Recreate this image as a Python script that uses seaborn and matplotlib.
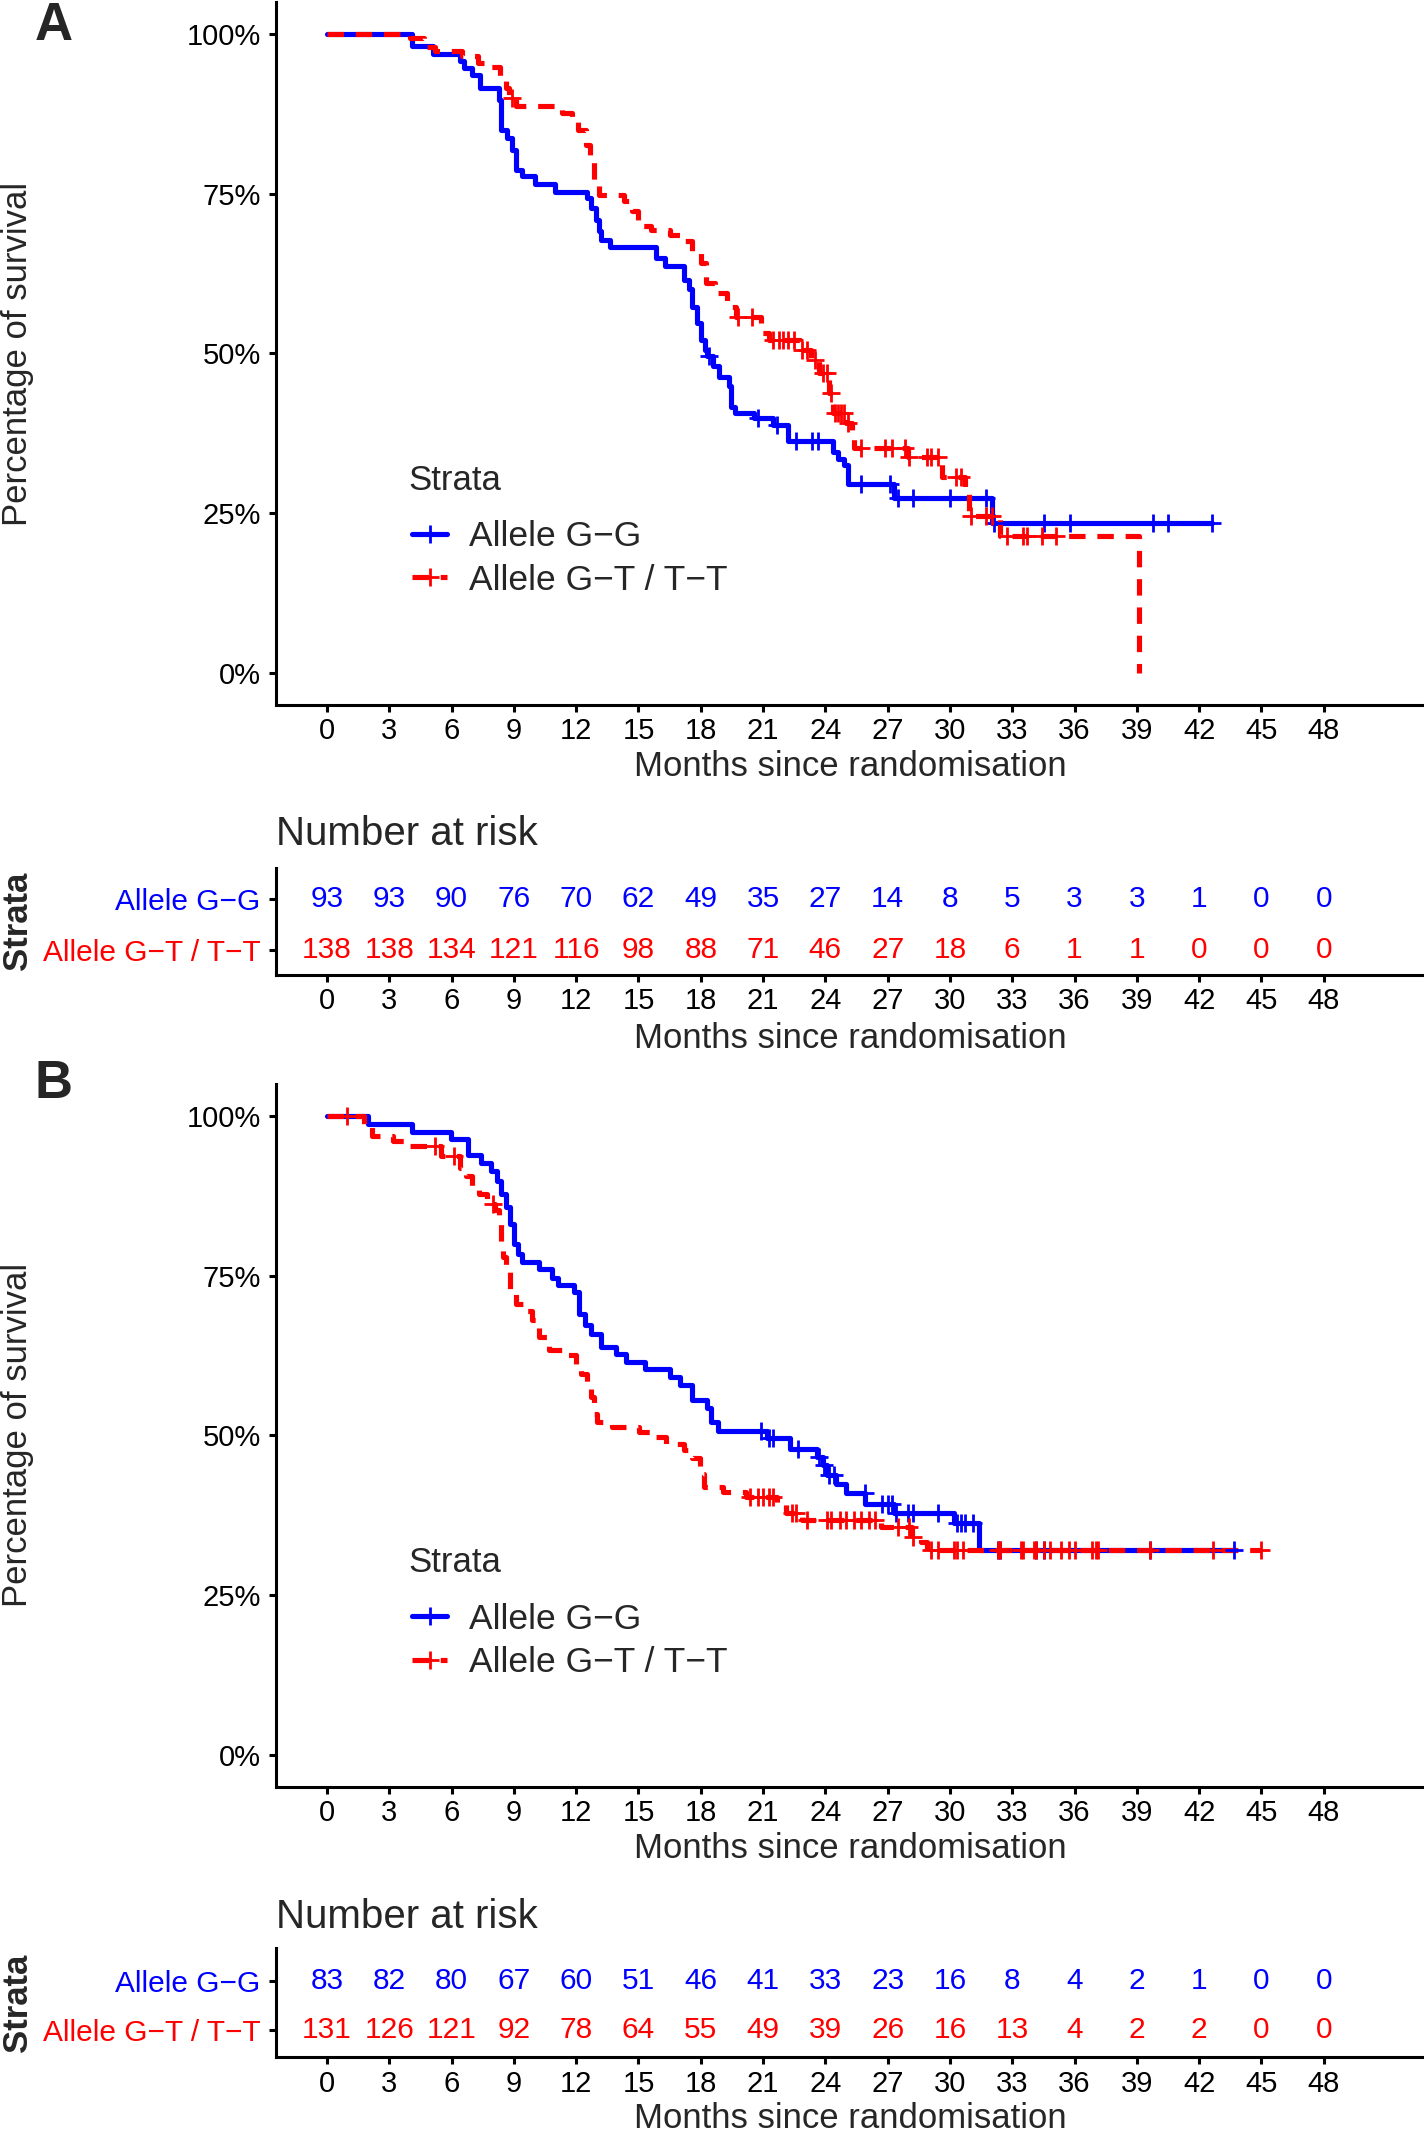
import numpy as np
import pandas as pd
import matplotlib
matplotlib.use('Agg')
import matplotlib.pyplot as plt
from matplotlib.lines import Line2D
import seaborn as sns

sns.set_style('ticks')
plt.rcParams['font.family'] = ['Liberation Sans', 'DejaVu Sans']

GG = 'Allele G\u2212G'
GT = 'Allele G\u2212T / T\u2212T'
BLUE = '#0000FF'
RED = '#FF0000'

months = list(range(0, 49, 3))
y_ticks = [0, 0.25, 0.5, 0.75, 1.0]
y_ticklabels = ['0%', '25%', '50%', '75%', '100%']

# ---- panel A: Kaplan-Meier steps (time of drop, survival after drop) ----
a_gg_time = [0, 4.1, 5.1, 6.4, 6.6, 7.0, 7.35, 8.27, 8.37, 8.65, 8.9, 9.1, 9.4, 10.0,
             10.96, 12.5, 12.7, 12.95, 13.1, 13.2, 13.65, 15.85, 16.3, 17.2, 17.45,
             17.6, 17.8, 18.0, 18.2, 18.3, 18.6, 18.88, 19.35, 19.44, 19.63, 20.55,
             21.48, 22.22, 24.35, 24.63, 24.9, 25.1, 27.3, 32.03, 42.6]
a_gg_surv = [1.0, 0.981, 0.969, 0.957, 0.946, 0.936, 0.915, 0.897, 0.850, 0.837, 0.819,
             0.787, 0.777, 0.765, 0.753, 0.743, 0.727, 0.709, 0.691, 0.678, 0.667, 0.649,
             0.636, 0.615, 0.600, 0.573, 0.547, 0.521, 0.505, 0.495, 0.48, 0.463, 0.448,
             0.416, 0.406, 0.398, 0.388, 0.362, 0.346, 0.335, 0.325, 0.296, 0.274,
             0.2346, 0.2346]
a_gg_cens = [18.42, 20.74, 21.66, 22.6, 23.37, 23.64, 25.7, 27.1, 27.5, 28.2, 29.99,
             31.75, 32.1, 34.53, 35.79, 39.77, 40.5, 42.6]

a_gt_time = [0, 4.0, 4.66, 5.22, 6.5, 7.25, 7.8, 8.35, 8.6, 8.75, 9.1, 11.3, 11.8, 12.1,
             12.45, 12.65, 12.85, 13.1, 14.3, 14.7, 15.0, 15.6, 16.5, 17.1, 17.6, 18.0,
             18.24, 18.7, 19.25, 19.7, 20.92, 21.3, 22.77, 23.32, 23.7, 24.16, 24.35,
             25.0, 25.27, 25.37, 27.96, 29.63, 30.74, 30.92, 32.4, 39.12]
a_gt_surv = [1.0, 0.993, 0.980, 0.973, 0.966, 0.955, 0.949, 0.934, 0.915, 0.90, 0.887,
             0.876, 0.863, 0.85, 0.826, 0.80, 0.77, 0.748, 0.738, 0.722, 0.70, 0.693,
             0.685, 0.675, 0.657, 0.641, 0.61, 0.594, 0.573, 0.557, 0.531, 0.521, 0.505,
             0.49, 0.469, 0.437, 0.406, 0.39, 0.369, 0.351, 0.338, 0.307, 0.286, 0.245,
             0.214, 0.0]
a_gt_cens = [8.9, 19.81, 20.46, 21.48, 21.76, 21.94, 22.2, 22.5, 22.86, 23.14, 23.5,
             23.9, 24.1, 24.25, 24.45, 24.6, 24.75, 24.9, 25.1, 25.74, 26.85, 27.22,
             27.86, 28.05, 28.88, 29.07, 29.44, 30.27, 30.55, 31.0, 31.75, 32.03, 32.77,
             33.5, 33.7, 34.44, 35.09]

a_gg_risk = [93, 93, 90, 76, 70, 62, 49, 35, 27, 14, 8, 5, 3, 3, 1, 0, 0]
a_gt_risk = [138, 138, 134, 121, 116, 98, 88, 71, 46, 27, 18, 6, 1, 1, 0, 0, 0]

# ---- panel B ----
b_gg_time = [0, 1.96, 4.1, 5.96, 6.8, 7.44, 7.9, 8.2, 8.36, 8.64, 8.83, 9.0, 9.2, 9.38,
             10.2, 10.86, 11.14, 11.88, 12.16, 12.44, 12.72, 13.19, 13.92, 14.39, 15.3,
             16.5, 16.98, 17.6, 18.3, 18.5, 18.85, 21.2, 22.31, 23.6, 23.88, 24.07,
             24.53, 25.0, 25.92, 27.3, 30.18, 31.38, 43.7]
b_gg_surv = [1.0, 0.987, 0.975, 0.964, 0.939, 0.927, 0.914, 0.898, 0.878, 0.857, 0.831,
             0.80, 0.784, 0.771, 0.76, 0.747, 0.736, 0.724, 0.69, 0.672, 0.659, 0.638,
             0.628, 0.615, 0.604, 0.591, 0.578, 0.555, 0.542, 0.52, 0.507, 0.495, 0.479,
             0.466, 0.453, 0.4375, 0.424, 0.409, 0.393, 0.378, 0.362, 0.32, 0.32]
b_gg_cens = [20.92, 21.29, 21.48, 22.68, 23.7, 23.95, 24.2, 24.4, 25.9, 26.75, 27.0,
             27.2, 27.4, 27.96, 28.24, 29.44, 30.36, 30.55, 30.74, 31.1, 32.3, 32.4,
             34.16, 34.53, 39.63, 43.7]

b_gt_time = [0, 1.8, 2.16, 3.18, 4.0, 5.5, 6.4, 6.7, 6.97, 7.34, 7.7, 8.09, 8.27, 8.36,
             8.46, 8.6, 8.83, 9.1, 9.57, 9.85, 10.2, 10.68, 11.33, 11.98, 12.25, 12.53,
             12.72, 12.87, 13.0, 13.74, 15.04, 15.8, 16.33, 17.2, 17.6, 17.96, 18.14,
             19.07, 20.18, 21.66, 22.1, 22.86, 26.66, 28.15, 28.6, 28.88, 45.0]
b_gt_surv = [1.0, 0.985, 0.969, 0.961, 0.953, 0.9375, 0.919, 0.906, 0.888, 0.877, 0.862,
             0.852, 0.831, 0.80, 0.779, 0.758, 0.727, 0.706, 0.695, 0.68, 0.654, 0.633,
             0.625, 0.612, 0.596, 0.576, 0.56, 0.534, 0.521, 0.513, 0.505, 0.497, 0.487,
             0.477, 0.464, 0.44, 0.419, 0.411, 0.404, 0.393, 0.378, 0.367, 0.357, 0.341,
             0.333, 0.32, 0.32]
b_gt_cens = [0.96, 5.2, 6.14, 8.0, 20.37, 20.74, 21.02, 21.29, 21.48, 22.4, 22.6, 23.14,
             24.07, 24.26, 24.72, 25.0, 25.37, 25.74, 26.1, 26.38, 27.5, 28.05, 28.24,
             29.07, 29.44, 30.18, 30.36, 30.64, 32.3, 32.4, 33.4, 33.5, 34.07, 34.16,
             34.53, 34.81, 35.37, 35.74, 36.0, 36.85, 37.03, 37.12, 39.63, 42.68, 45.0]

b_gg_risk = [83, 82, 80, 67, 60, 51, 46, 41, 33, 23, 16, 8, 4, 2, 1, 0, 0]
b_gt_risk = [131, 126, 121, 92, 78, 64, 55, 49, 39, 26, 16, 13, 4, 2, 2, 0, 0]

# ---- layout (pixels of the 1424x2132 canvas) ----
W, H = 1424, 2132
fig = plt.figure(figsize=(W / 100, H / 100), dpi=100)


def box(left, top, right, bottom):
    return [left / W, 1 - bottom / H, (right - left) / W, (bottom - top) / H]


X0, PX = 327.0, 20.764
XLIM = ((276 - X0) / PX, (W - X0) / PX)
LW = 3.7
SPINE = 2.2
MS, MEW = 13, 2.0
DASH = (3.2, 2.3)


def level_at(t_steps, s_steps, tc):
    idx = np.searchsorted(t_steps, tc, side='right') - 1
    return np.asarray(s_steps)[idx]


def style_axis(ax):
    sns.despine(ax=ax)
    for s in ['left', 'bottom']:
        ax.spines[s].set_linewidth(SPINE)
        ax.spines[s].set_color('black')
    ax.set_xlim(*XLIM)
    ax.set_xticks(months)
    ax.set_xticklabels([str(m) for m in months])
    ax.tick_params(axis='both', length=5, width=SPINE, labelsize=21, colors='black')
    ax.tick_params(axis='x', pad=4.2)
    ax.set_xlabel('')
    ax.set_ylabel('')


def ftext(x, y, s, **kw):
    fig.text(x / W, 1 - y / H, s, **kw)


def km_panel(top, gg_t, gg_s, gg_c, gt_t, gt_s, gt_c, legend_y):
    ax = fig.add_axes(box(276, top, W, top + 702.5))
    df = pd.concat([pd.DataFrame({'time': gg_t, 'surv': gg_s, 'strata': GG}),
                    pd.DataFrame({'time': gt_t, 'surv': gt_s, 'strata': GT})])
    sns.lineplot(data=df, x='time', y='surv', hue='strata', style='strata',
                 hue_order=[GG, GT], style_order=[GG, GT],
                 palette={GG: BLUE, GT: RED}, dashes={GG: '', GT: DASH},
                 estimator=None, sort=False, drawstyle='steps-post', lw=LW,
                 legend=False, ax=ax)
    ax.plot(gg_c, level_at(gg_t, gg_s, gg_c), ls='none', marker='+', ms=MS,
            mew=MEW, color=BLUE)
    ax.plot(gt_c, level_at(gt_t, gt_s, gt_c), ls='none', marker='+', ms=MS,
            mew=MEW, color=RED)
    style_axis(ax)
    ax.set_ylim(-0.05, 1.05)
    ax.set_yticks(y_ticks)
    ax.set_yticklabels(y_ticklabels)
    ax.tick_params(axis='y', pad=6)
    handles = [Line2D([], [], color=BLUE, lw=LW, marker='+', ms=MS, mew=MEW),
               Line2D([], [], color=RED, lw=LW, marker='+', ms=MS, mew=MEW,
                      dashes=DASH)]
    # legend title drawn as text so its gap to the keys matches
    ftext(408, legend_y - 78, 'Strata', ha='left', va='center', fontsize=25)
    ax.legend(handles, [GG, GT], loc='center left',
              bbox_to_anchor=(412 / W, 1 - legend_y / H),
              bbox_transform=fig.transFigure, frameon=False, fontsize=25.5,
              handlelength=1.0, handletextpad=0.62,
              labelspacing=0.3, borderpad=0, borderaxespad=0)
    return ax


def risk_table(top, bottom, row2_px, row1_px, gg_risk, gt_risk):
    ax = fig.add_axes(box(276, top, W, bottom))
    for m, n in zip(months, gg_risk):
        ax.text(m, 2, str(n), ha='center', va='center', color=BLUE, fontsize=21.5)
    for m, n in zip(months, gt_risk):
        ax.text(m, 1, str(n), ha='center', va='center', color=RED, fontsize=21.5)
    style_axis(ax)
    unit = row1_px - row2_px
    ax.set_ylim(1 - (bottom - row1_px) / unit, 2 + (row2_px - top) / unit)
    ax.set_yticks([2, 1])
    ax.set_yticklabels([GG, GT], fontsize=21.5)
    for lab, c in zip(ax.get_yticklabels(), [BLUE, RED]):
        lab.set_color(c)
    ax.tick_params(axis='y', pad=6)
    return ax


# panel A
km_panel(2, a_gg_time, a_gg_surv, a_gg_cens, a_gt_time, a_gt_surv, a_gt_cens, 558.5)
risk_table(868, 974.5, 899, 950, a_gg_risk, a_gt_risk)
# panel B
km_panel(1084, b_gg_time, b_gg_surv, b_gg_cens, b_gt_time, b_gt_surv, b_gt_cens, 1641)
risk_table(1948, 2057, 1981, 2030, b_gg_risk, b_gt_risk)

for y in [766, 1038, 1848, 2118]:
    ftext(850, y, 'Months since randomisation', ha='center', va='center', fontsize=25)
for y in [354, 1435]:
    ftext(18, y, 'Percentage of survival', ha='center', va='center', rotation=90,
          fontsize=25)
for y in [834, 1917]:
    ftext(276, y, 'Number at risk', ha='left', va='center', fontsize=29)
for y in [921, 2003]:
    ftext(18, y, 'Strata', ha='center', va='center', rotation=90, fontsize=25,
          fontweight='bold')
ftext(54, 26, 'A', ha='center', va='center', fontsize=38, fontweight='bold')
ftext(54, 1084, 'B', ha='center', va='center', fontsize=38, fontweight='bold')

fig.savefig('out.png', dpi=100)
